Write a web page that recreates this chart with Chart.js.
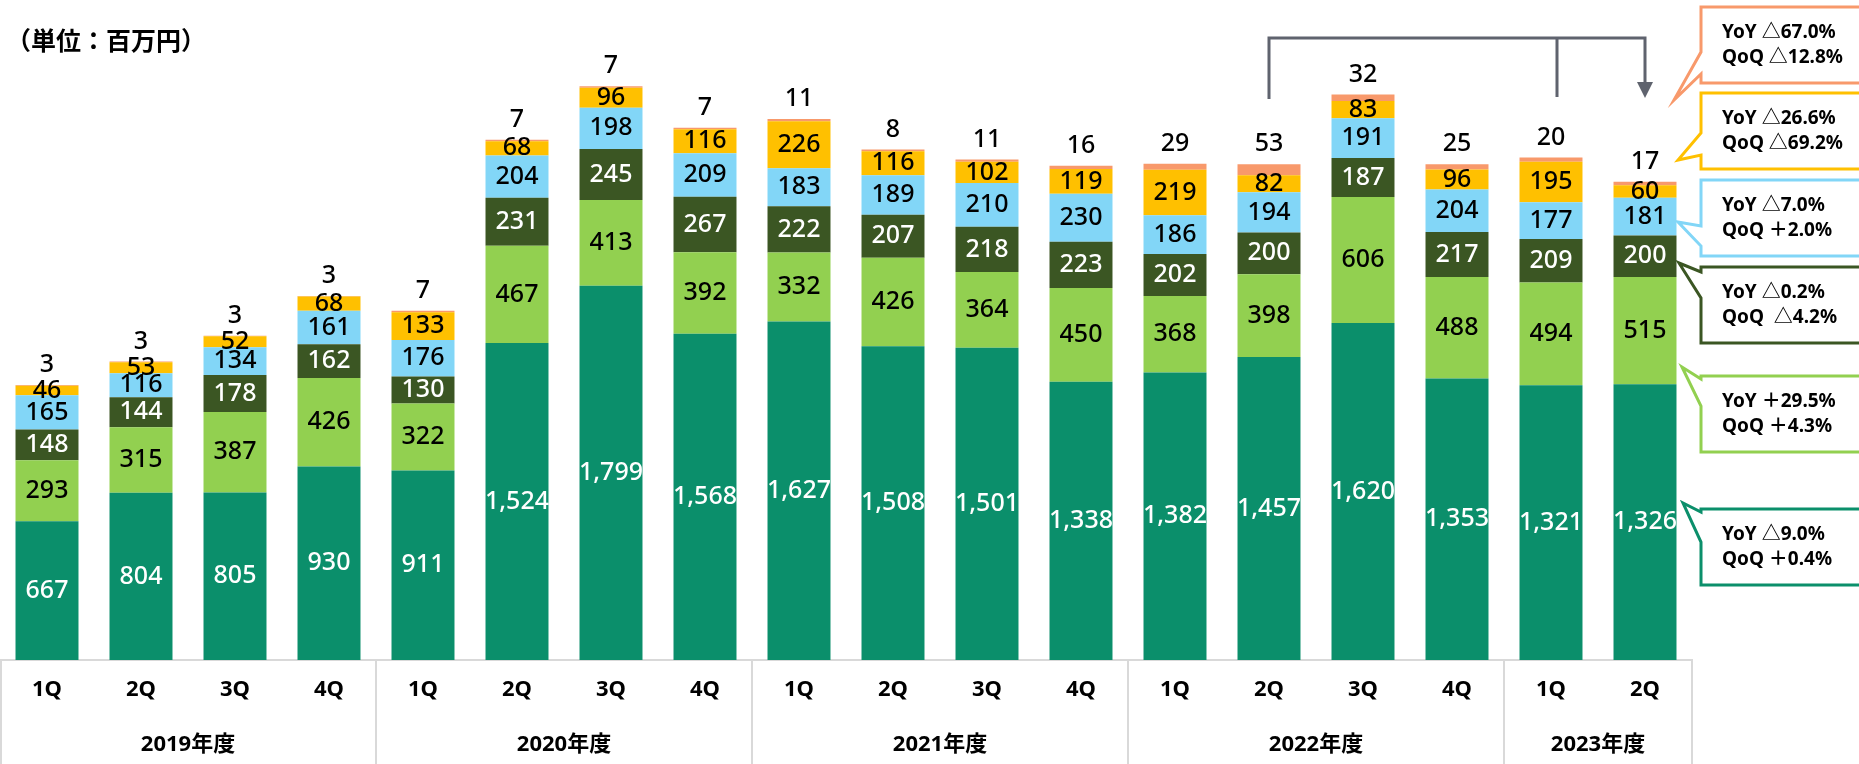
<!DOCTYPE html>
<html lang="ja">
<head>
  <meta charset="UTF-8">
  <title>四半期売上推移</title>
  <script src="https://cdn.jsdelivr.net/npm/chart.js"></script>
  <style>
    html, body { margin: 0; padding: 0; background: #fff; }
  </style>
</head>
<body>
  <canvas id="salesChart" width="1859" height="764"></canvas>

  <script>
    var quarters = ["1Q", "2Q", "3Q", "4Q", "1Q", "2Q", "3Q", "4Q", "1Q", "2Q", "3Q", "4Q", "1Q", "2Q", "3Q", "4Q", "1Q", "2Q"];
    var fiscalYears = ["2019年度", "2020年度", "2021年度", "2022年度", "2023年度"];
    var quartersPerYear = [4, 4, 4, 4, 2];

    // bottom -> top
    var seriesTeal   = [667, 804, 805, 930, 911, 1524, 1799, 1568, 1627, 1508, 1501, 1338, 1382, 1457, 1620, 1353, 1321, 1326];
    var seriesLime   = [293, 315, 387, 426, 322, 467, 413, 392, 332, 426, 364, 450, 368, 398, 606, 488, 494, 515];
    var seriesOlive  = [148, 144, 178, 162, 130, 231, 245, 267, 222, 207, 218, 223, 202, 200, 187, 217, 209, 200];
    var seriesSky    = [165, 116, 134, 161, 176, 204, 198, 209, 183, 189, 210, 230, 186, 194, 191, 204, 177, 181];
    var seriesAmber  = [46, 53, 52, 68, 133, 68, 96, 116, 226, 116, 102, 119, 219, 82, 83, 96, 195, 60];
    var seriesSalmon = [3, 3, 3, 3, 7, 7, 7, 7, 11, 8, 11, 16, 29, 53, 32, 25, 20, 17];

    // callouts, top -> bottom (salmon, amber, sky, olive, lime, teal)
    var yoyTexts = ["YoY △67.0%", "YoY △26.6%", "YoY △7.0%", "YoY △0.2%", "YoY ＋29.5%", "YoY △9.0%"];
    var qoqTexts = ["QoQ △12.8%", "QoQ △69.2%", "QoQ ＋2.0%", "QoQ  △4.2%", "QoQ ＋4.3%", "QoQ ＋0.4%"];

    var colors = ["#0B8F6B", "#92D050", "#3B5623", "#82D6F7", "#FFC000", "#F8996B"];
    var labelColors = ["#fff", "#000", "#fff", "#000", "#000", "#000"];
    var fontFamily = '"Noto Sans", "Noto Sans CJK JP", sans-serif';

    var segmentLabels = {
      id: "segmentLabels",
      afterDatasetsDraw: function (chart) {
        var c = chart.ctx;
        var last = chart.data.datasets.length - 1;
        c.save();
        c.font = "500 25px " + fontFamily;
        c.textAlign = "center";
        c.textBaseline = "middle";
        chart.data.datasets.forEach(function (ds, i) {
          var meta = chart.getDatasetMeta(i);
          meta.data.forEach(function (bar, j) {
            var txt = ds.data[j].toLocaleString("en-US");
            var y = i === last ? bar.y - 20 : (bar.y + bar.base) / 2;
            c.fillStyle = labelColors[i];
            c.fillText(txt, bar.x, y);
          });
        });
        c.restore();
      }
    };

    var yearAxis = {
      id: "yearAxis",
      afterDraw: function (chart) {
        var c = chart.ctx;
        var x = chart.scales.x;
        var bottom = chart.chartArea.bottom;
        var half = (x.getPixelForValue(1) - x.getPixelForValue(0)) / 2;
        c.save();
        c.strokeStyle = "#d9d9d9";
        c.lineWidth = 2;
        c.beginPath();
        c.moveTo(1, bottom);
        c.lineTo(1, chart.height);
        c.stroke();
        c.font = "bold 22px " + fontFamily;
        c.fillStyle = "#000";
        c.textAlign = "center";
        c.textBaseline = "middle";
        var idx = 0;
        quartersPerYear.forEach(function (n, k) {
          var left = x.getPixelForValue(idx) - half;
          var right = x.getPixelForValue(idx + n - 1) + half;
          c.beginPath();
          c.moveTo(right, bottom);
          c.lineTo(right, chart.height);
          c.stroke();
          c.fillText(fiscalYears[k], (left + right) / 2, 745);
          idx += n;
        });

        // unit
        c.textAlign = "left";
        c.font = 'bold 25px "Noto Sans CJK JP", sans-serif';
        c.fillText("（単位：百万円）", 6, 40);
        c.restore();
      }
    };

    var bracket = {
      id: "bracket",
      afterDraw: function (chart) {
        var c = chart.ctx;
        var x = chart.scales.x;
        var x1 = x.getPixelForValue(13);
        var x2 = x.getPixelForValue(16) + 6;
        var x3 = x.getPixelForValue(17);
        c.save();
        c.strokeStyle = "#5F636E";
        c.fillStyle = "#5F636E";
        c.lineWidth = 3;
        c.beginPath();
        c.moveTo(x1, 99);
        c.lineTo(x1, 38);
        c.lineTo(x3, 38);
        c.lineTo(x3, 84);
        c.moveTo(x2, 38);
        c.lineTo(x2, 97);
        c.stroke();
        c.beginPath();
        c.moveTo(x3 - 8, 82);
        c.lineTo(x3 + 8, 82);
        c.lineTo(x3, 98);
        c.closePath();
        c.fill();
        c.restore();
      }
    };

    // box top, tip x/y, tail base y1/y2
    var calloutBoxes = [
      [7, 1674, 100, 52, 74],
      [93, 1678, 160, 133, 155],
      [180, 1678, 222, 226, 246],
      [267, 1679, 263, 272, 298],
      [376, 1682, 367, 379, 406],
      [509, 1683, 503, 512, 542]
    ];
    var calloutColors = ["#F8996B", "#FFC000", "#82D6F7", "#3B5623", "#92D050", "#0B8F6B"];

    var callouts = {
      id: "callouts",
      afterDraw: function (chart) {
        var c = chart.ctx;
        var left = 1701, right = 1880, h = 76;
        c.save();
        c.lineWidth = 3;
        c.lineJoin = "miter";
        calloutBoxes.forEach(function (b, i) {
          var top = b[0];
          c.beginPath();
          c.moveTo(left, top);
          c.lineTo(right, top);
          c.lineTo(right, top + h);
          c.lineTo(left, top + h);
          c.lineTo(left, b[4]);
          c.lineTo(b[1], b[2]);
          c.lineTo(left, b[3]);
          c.closePath();
          c.fillStyle = "#fff";
          c.fill();
          c.strokeStyle = calloutColors[i];
          c.stroke();
          c.fillStyle = "#000";
          c.font = "bold 19px " + fontFamily;
          c.textAlign = "left";
          c.textBaseline = "middle";
          c.fillText(yoyTexts[i], 1722, top + 26);
          c.fillText(qoqTexts[i], 1722, top + 51);
        });
        c.restore();
      }
    };

    var seriesList = [seriesTeal, seriesLime, seriesOlive, seriesSky, seriesAmber, seriesSalmon];

    var ctx = document.getElementById("salesChart").getContext("2d");
    var salesChart = new Chart(ctx, {
      type: "bar",
      data: {
        labels: quarters,
        datasets: seriesList.map(function (s, i) {
          return {
            data: s,
            backgroundColor: colors[i],
            borderWidth: 0,
            barPercentage: 0.67,
            categoryPercentage: 1
          };
        })
      },
      options: {
        responsive: false,
        animation: false,
        layout: { padding: { top: 36, right: 167, left: 0, bottom: 0 } },
        plugins: {
          legend: { display: false },
          tooltip: { enabled: false }
        },
        scales: {
          x: {
            stacked: true,
            grid: { display: false, drawTicks: false },
            border: { display: true, color: "#d9d9d9", width: 2 },
            ticks: {
              color: "#000",
              padding: 17,
              maxRotation: 0,
              autoSkip: false,
              font: { family: fontFamily, size: 22, weight: "bold" }
            },
            afterFit: function (scale) { scale.height = 104; }
          },
          y: { stacked: true, display: false, min: 0, max: 3000 }
        }
      },
      plugins: [segmentLabels, yearAxis, bracket, callouts]
    });
  </script>
</body>
</html>
